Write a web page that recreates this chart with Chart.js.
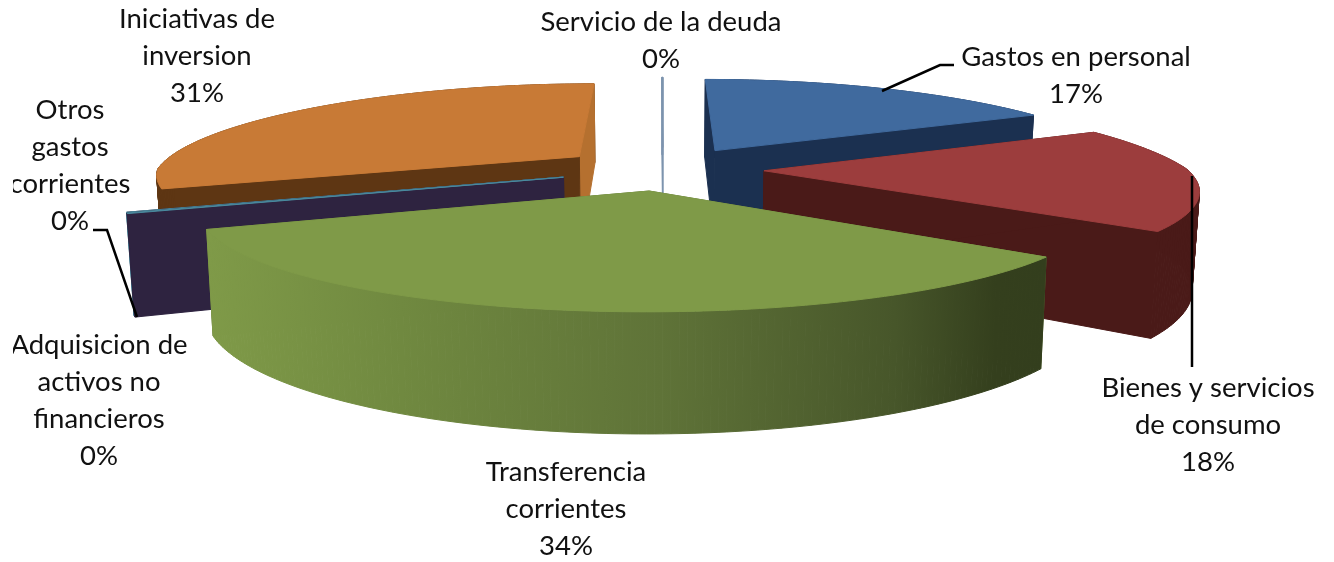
<!DOCTYPE html>
<html>
<head>
<meta charset="utf-8">
<title>Gastos</title>
<script src="https://cdn.jsdelivr.net/npm/chart.js@4/dist/chart.umd.min.js"></script>
<style>
  html, body { margin: 0; padding: 0; background: #fff; }
  canvas { display: block; }
</style>
</head>
<body>
<canvas id="pie" width="1334" height="562"></canvas>
<script>
// values (labels round them to whole percent)
const categories = ['Gastos en personal', 'Bienes y servicios de consumo', 'Transferencia corrientes',
  'Adquisicion de activos no financieros', 'Otros gastos corrientes', 'Iniciativas de inversion', 'Servicio de la deuda'];
const values = [17.4, 17.8, 33.85, 0.1, 0.1, 30.7, 0.05];
const labelLines = [
  ['Gastos en personal'],
  ['Bienes y servicios', 'de consumo'],
  ['Transferencia', 'corrientes'],
  ['Adquisicion de', 'activos no', 'financieros'],
  ['Otros', 'gastos', 'corrientes'],
  ['Iniciativas de', 'inversion'],
  ['Servicio de la deuda']
];

const topColors = ['#406a9e', '#9c3d3d', '#7f9a48', '#4a8a9e', '#4a8a9e', '#c87a36', '#7d94ae'];
const wallColors = ['#1b3050', '#4a1a18', '#5f7337', '#2e2340', '#4a8a9e', '#5e3613', '#7d94ae'];
const endFaceColors = ['#1b3050', '#4a1a18', '#5f7337', '#2e2340', '#2e2340', '#b5702f', '#7d94ae'];
const explode = [105, 101, 100, 105, 105, 105, 105];

// back to front
const drawOrder = [6, 5, 0, 4, 3, 1, 2];

// where the labels sit: centre x, y of first line
const labelPlaces = [
  { x: 1076, y: 57 }, { x: 1208, y: 388 }, { x: 566, y: 472 }, { x: 99, y: 345 },
  { x: 70, y: 110 }, { x: 197, y: 19 }, { x: 661, y: 22 }
];
const leaderLines = [
  [[882, 91], [940, 65], [954, 65]],
  [[1192, 176], [1192, 367]],
  [[93, 230], [107, 230], [137, 317]]
];

const TILT = 90, PERSP = 0.18, PERSP_BACK_X = 0.24, DEPTH = 95, SHRINK = 0.014;

function project(el, X, Y, z) {
  const s = 1 / (1 - PERSP * Y);
  const sx = Y < 0 ? 1 / (1 - PERSP_BACK_X * Y) : s;
  return [
    el.x + X * el.outerRadius * sx * (1 - SHRINK * z),
    el.y + (TILT * Y + DEPTH * z) * s
  ];
}

function fillPoly(ctx, pts, color) {
  ctx.beginPath();
  pts.forEach((p, i) => i ? ctx.lineTo(p[0], p[1]) : ctx.moveTo(p[0], p[1]));
  ctx.closePath();
  ctx.fillStyle = color;
  ctx.strokeStyle = color;
  ctx.lineWidth = 1;
  ctx.fill();
  ctx.stroke();
}

const pie3d = {
  id: 'pie3d',
  beforeDatasetDraw() {
    return false; // the flat arcs are replaced by the extruded ones below
  },
  afterDatasetsDraw(chart) {
    const ctx = chart.ctx;
    const arcs = chart.getDatasetMeta(0).data;

    drawOrder.forEach(i => {
      const el = arcs[i];
      const mid = (el.startAngle + el.endAngle) / 2;
      const off = el.options.offset / el.outerRadius;
      const ox = Math.cos(mid) * off, oy = Math.sin(mid) * off;
      const rim = [];
      const angles = [];
      const n = Math.max(2, Math.ceil((el.endAngle - el.startAngle) / 0.015));
      for (let k = 0; k <= n; k++) {
        const a = el.startAngle + (el.endAngle - el.startAngle) * k / n;
        angles.push(a);
        rim.push([ox + Math.cos(a), oy + Math.sin(a)]);
      }
      const first = rim[0], last = rim[n];

      let wall = wallColors[i];
      if (i === 2) {
        wall = ctx.createLinearGradient(210, 0, 1045, 0);
        wall.addColorStop(0, '#7f9a48');
        wall.addColorStop(0.23, '#708940');
        wall.addColorStop(0.54, '#5f7338');
        wall.addColorStop(0.82, '#47562a');
        wall.addColorStop(0.94, '#343f1d');
        wall.addColorStop(1, '#333e1d');
      }
      const wallQuad = k => fillPoly(ctx, [
        project(el, rim[k][0], rim[k][1], 0), project(el, rim[k + 1][0], rim[k + 1][1], 0),
        project(el, rim[k + 1][0], rim[k + 1][1], 1), project(el, rim[k][0], rim[k][1], 1)
      ], wall);

      // outer wall facing away
      for (let k = 0; k < n; k++) if (Math.sin(angles[k]) <= 0) wallQuad(k);

      // cut faces
      fillPoly(ctx, [project(el, ox, oy, 0), project(el, last[0], last[1], 0),
        project(el, last[0], last[1], 1), project(el, ox, oy, 1)], endFaceColors[i]);
      fillPoly(ctx, [project(el, ox, oy, 0), project(el, first[0], first[1], 0),
        project(el, first[0], first[1], 1), project(el, ox, oy, 1)], wallColors[i]);

      // outer wall facing the viewer
      for (let k = 0; k < n; k++) if (Math.sin(angles[k]) > 0) wallQuad(k);

      // top
      fillPoly(ctx, [project(el, ox, oy, 0)].concat(rim.map(p => project(el, p[0], p[1], 0))), topColors[i]);
    });

    // leader lines
    ctx.strokeStyle = '#000';
    ctx.lineWidth = 2.5;
    leaderLines.forEach(line => {
      ctx.beginPath();
      line.forEach((p, i) => i ? ctx.lineTo(p[0], p[1]) : ctx.moveTo(p[0], p[1]));
      ctx.stroke();
    });

    // labels, the picture cuts them off at the left
    ctx.save();
    ctx.beginPath();
    ctx.rect(13, 0, chart.width, chart.height);
    ctx.clip();
    ctx.fillStyle = '#111';
    ctx.font = '27.5px Lato';
    ctx.textAlign = 'center';
    ctx.textBaseline = 'middle';
    const total = values.reduce((a, b) => a + b, 0);
    labelLines.forEach((lines, i) => {
      const all = lines.concat(Math.round(values[i] / total * 100) + '%');
      all.forEach((t, k) => ctx.fillText(t, labelPlaces[i].x, labelPlaces[i].y + k * 37));
    });
    ctx.restore();
  }
};

new Chart(document.getElementById('pie'), {
  type: 'pie',
  data: {
    labels: categories,
    datasets: [{
      data: values,
      backgroundColor: topColors,
      borderWidth: 0,
      offset: explode,
      radius: 423
    }]
  },
  options: {
    responsive: false,
    animation: false,
    layout: { padding: { right: 8, bottom: 224 } },
    plugins: {
      legend: { display: false },
      tooltip: { enabled: false }
    }
  },
  plugins: [pie3d]
});
</script>
</body>
</html>
